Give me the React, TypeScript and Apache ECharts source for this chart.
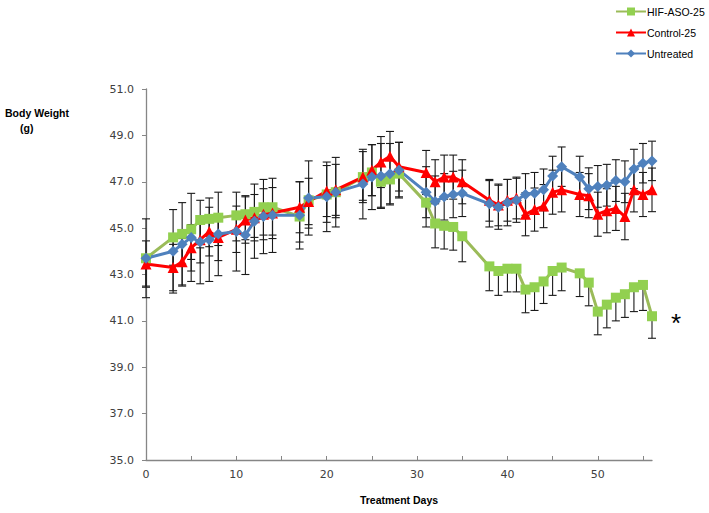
import React, { useEffect, useRef } from "react";
import * as echarts from "echarts";

const days = [0, 3, 4, 5, 6, 7, 8, 10, 11, 12, 13, 14, 17, 18, 20, 21, 24, 25, 26, 27, 28, 31, 32, 33, 34, 35, 38, 39, 40, 41, 42, 43, 44, 45, 46, 48, 49, 50, 51, 52, 53, 54, 55, 56];

const hifAso = [43.7, 44.6, 44.75, 44.95, 45.35, 45.4, 45.45, 45.55, 45.6, 45.7, 45.9, 45.9, 45.5, 46.2, 46.45, 46.55, 47.2, 47.4, 47.0, 47.1, 47.35, 46.1, 45.2, 45.1, 45.05, 44.65, 43.35, 43.15, 43.25, 43.25, 42.35, 42.45, 42.7, 43.15, 43.3, 43.05, 42.65, 41.4, 41.7, 42.0, 42.15, 42.45, 42.55, 41.2];
const control = [43.45, 43.3, 43.55, 44.15, 44.5, 44.85, 44.6, 44.95, 45.35, 45.45, 45.6, 45.65, 45.9, 46.15, 46.6, 46.65, 47.2, 47.5, 47.85, 48.1, 47.65, 47.4, 47.0, 47.2, 47.2, 47.0, 46.2, 46.0, 46.2, 46.3, 45.6, 45.8, 45.95, 46.55, 46.65, 46.45, 46.4, 45.6, 45.75, 45.85, 45.5, 46.65, 46.45, 46.65];
const untreated = [43.7, 44.0, 44.3, 44.6, 44.4, 44.5, 44.75, 44.85, 44.7, 45.3, 45.5, 45.55, 45.55, 46.3, 46.35, 46.55, 46.9, 47.2, 47.25, 47.35, 47.5, 46.55, 46.15, 46.35, 46.45, 46.5, 46.05, 45.9, 46.1, 46.2, 46.45, 46.5, 46.65, 47.25, 47.65, 47.2, 46.7, 46.8, 46.85, 47.05, 47.0, 47.55, 47.8, 47.9];

const hifAsoErr = [1.2, 1.2, 1.3, 1.3, 1.2, 1.2, 1.2, 1.1, 1.1, 1.1, 1.2, 1.2, 1.1, 1.2, 1.2, 1.1, 1.0, 1.0, 1.1, 1.1, 1.0, 1.05, 1.05, 1.0, 1.0, 1.1, 1.05, 1.05, 1.0, 1.0, 1.0, 1.0, 0.95, 1.05, 1.0, 1.0, 1.0, 1.0, 1.0, 1.0, 1.0, 1.05, 1.1, 0.95];
const controlErr = [1.0, 1.0, 1.0, 1.0, 1.0, 1.05, 1.0, 1.0, 1.0, 1.0, 1.1, 1.1, 1.1, 1.0, 1.1, 1.1, 1.1, 1.1, 1.1, 1.07, 1.05, 0.95, 0.95, 0.95, 0.95, 0.95, 0.9, 0.9, 0.9, 0.9, 0.93, 0.93, 0.93, 0.95, 0.95, 0.95, 0.95, 0.95, 0.95, 0.95, 1.0, 0.95, 0.95, 0.94];
const untreatedErr = [1.7, 1.8, 1.8, 1.9, 1.8, 1.8, 1.8, 1.7, 1.7, 1.6, 1.6, 1.6, 1.45, 1.6, 1.5, 1.5, 1.5, 1.4, 1.4, 1.3, 1.2, 1.1, 1.1, 1.0, 1.0, 1.0, 1.0, 0.95, 1.0, 0.95, 0.9, 0.9, 0.9, 0.85, 0.85, 0.9, 0.9, 0.9, 0.9, 0.9, 0.9, 0.85, 0.85, 0.85];

const seriesNames = ["HIF-ASO-25", "Control-25", "Untreated"];
const xTicks = [0, 5, 10, 15, 20, 25, 30, 35, 40, 45, 50, 55];
const xLabels = [0, 10, 20, 30, 40, 50];

const FONT = "DejaVu Sans";
const BOLD_FONT = "Liberation Sans";

export default function App() {
  const ref = useRef<HTMLDivElement>(null);

  useEffect(() => {
    if (!ref.current) return;
    const chart = echarts.init(ref.current, null, { renderer: "svg" });

    // error bar data: [x, low, high, showUpper, showLower]
    const errData = (vals: number[], errs: number[], upper: boolean, lower: boolean) =>
      days.map((d, i) => [d, lower ? vals[i] - errs[i] : vals[i], upper ? vals[i] + errs[i] : vals[i], upper ? 1 : 0, lower ? 1 : 0]);

    const renderErr = (params: any, api: any) => {
      const x = api.value(0);
      const lo = api.value(1);
      const hi = api.value(2);
      const up = api.value(3);
      const dn = api.value(4);
      const p1 = api.coord([x, hi]);
      const p2 = api.coord([x, lo]);
      const cw = 4;
      const style = { stroke: "#1a1a1a", lineWidth: 1.1 };
      const children: any[] = [
        { type: "line", shape: { x1: p1[0], y1: p1[1], x2: p2[0], y2: p2[1] }, style },
      ];
      if (up) children.push({ type: "line", shape: { x1: p1[0] - cw, y1: p1[1], x2: p1[0] + cw, y2: p1[1] }, style });
      if (dn) children.push({ type: "line", shape: { x1: p2[0] - cw, y1: p2[1], x2: p2[0] + cw, y2: p2[1] }, style });
      return { type: "group", children };
    };

    const errSeries = (name: string, data: any[]) => ({
      type: "custom",
      name: name + " err",
      renderItem: renderErr,
      data,
      z: 1,
      silent: true,
      encode: { x: 0, y: [1, 2] },
    });

    const lineSeries = (name: string, vals: number[], color: string, lineColor: string, symbol: string, size: number) => ({
      type: "line",
      name,
      data: days.map((d, i) => [d, vals[i]]),
      symbol,
      symbolSize: size,
      showAllSymbol: true,
      lineStyle: { color: lineColor, width: 3 },
      itemStyle: { color },
      z: 2,
    });

    chart.setOption({
      animation: false,
      backgroundColor: "#ffffff",
      grid: { left: 146, right: 57, top: 89, bottom: 53, containLabel: false },
      legend: {
        data: seriesNames,
        orient: "vertical",
        left: 610,
        top: 1,
        itemWidth: 30,
        itemHeight: 10,
        itemGap: 10,
        textStyle: { fontFamily: BOLD_FONT, fontSize: 10.5, color: "#000", padding: [0, 0, 0, -4] },
      },
      xAxis: {
        type: "value",
        min: 0,
        max: 56,
        interval: 5,
        name: "Treatment Days",
        nameLocation: "middle",
        nameGap: 34,
        nameTextStyle: { fontFamily: BOLD_FONT, fontWeight: "bold", fontSize: 10.5, color: "#000" },
        axisLine: { show: true, lineStyle: { color: "#868686", width: 1.3 } },
        axisTick: { show: true, inside: true, length: 4, customValues: xTicks, lineStyle: { color: "#868686" } },
        axisLabel: { customValues: xLabels, fontFamily: FONT, fontSize: 11, color: "#404040", margin: 9 },
        splitLine: { show: false },
      },
      yAxis: {
        type: "value",
        min: 35,
        max: 51,
        interval: 2,
        axisLine: { show: true, lineStyle: { color: "#868686", width: 1.3 } },
        axisTick: { show: true, inside: false, length: 4, lineStyle: { color: "#868686" } },
        axisLabel: { fontFamily: FONT, fontSize: 11, color: "#404040", margin: 12, formatter: (v: number) => v.toFixed(1) },
        splitLine: { show: false },
      },
      graphic: [
        { type: "text", left: 5, top: 107, style: { text: "Body Weight", font: `bold 10.5px "${BOLD_FONT}"`, fill: "#000" } },
        { type: "text", left: 20, top: 122, style: { text: "(g)", font: `bold 10.5px "${BOLD_FONT}"`, fill: "#000" } },
        { type: "text", left: 671, top: 310, style: { text: "*", font: `26px "${BOLD_FONT}"`, fill: "#000" } },
      ],
      series: [
        errSeries(seriesNames[0], errData(hifAso, hifAsoErr, false, true)),
        errSeries(seriesNames[1], errData(control, controlErr, true, true)),
        errSeries(seriesNames[2], errData(untreated, untreatedErr, true, true)),
        lineSeries(seriesNames[0], hifAso, "#92D050", "#9BBB59", "rect", 10),
        lineSeries(seriesNames[1], control, "#FF0000", "#FF0000", "triangle", 11),
        lineSeries(seriesNames[2], untreated, "#4F81BD", "#4F81BD", "diamond", 11),
      ],
    });

    return () => chart.dispose();
  }, []);

  return <div ref={ref} style={{ position: "absolute", left: 0, top: 0, width: 709, height: 513 }} />;
}
